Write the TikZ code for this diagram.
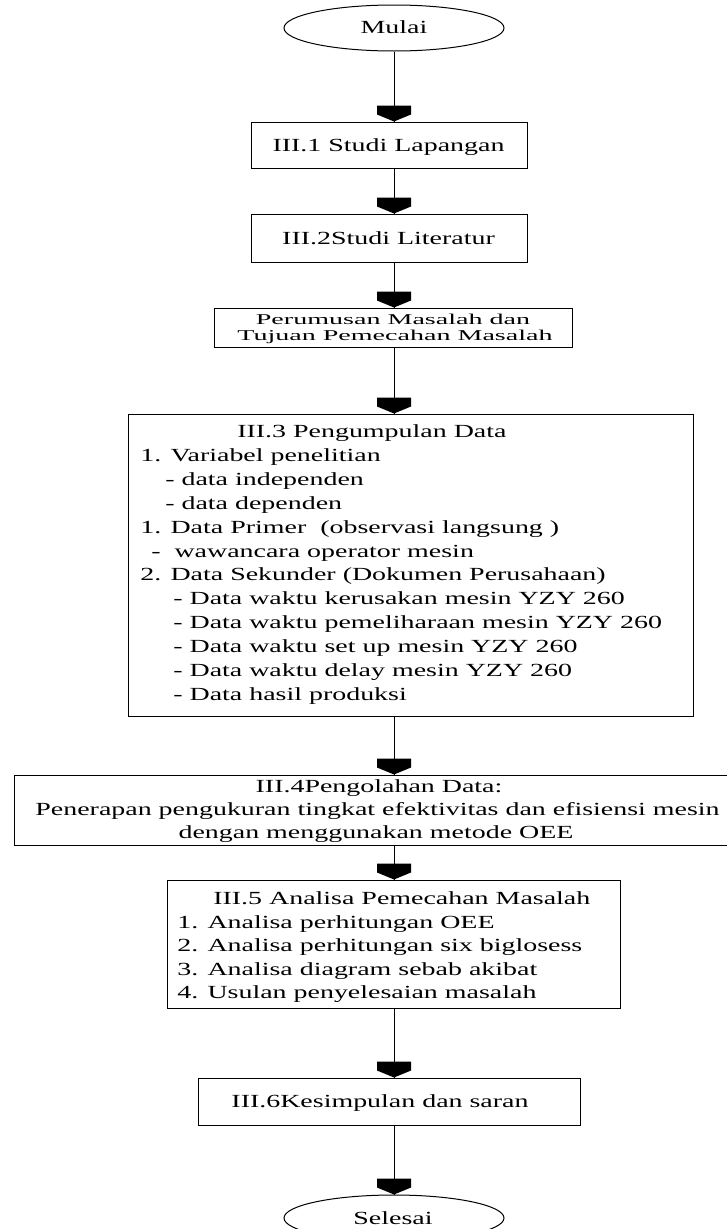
\documentclass[tikz,border=0pt]{standalone}
\usepackage{fontspec}
\setmainfont{Liberation Serif}
\usetikzlibrary{shapes.geometric}
\begin{document}
\begin{tikzpicture}[x=1pt,y=-1pt,
  boxst/.style={draw, line width=1pt, rectangle, inner sep=0pt},
  term/.style={draw, line width=1pt, ellipse, inner sep=0pt, minimum width=220pt, minimum height=46pt},
  conn/.style={line width=1pt},
  txt/.style={font=\fontsize{18.5}{21}\selectfont, xscale=1.51, inner sep=0pt, anchor=base},
  txtl/.style={txt, anchor=base west},
  txts/.style={font=\fontsize{15}{16}\selectfont, xscale=1.87, inner sep=0pt, anchor=base},
  arrowpent/.pic={\fill (0,0) -- (-17,-7) -- (-17,-16) -- (17,-16) -- (17,-7) -- cycle;}
]
\useasboundingbox (0,0) rectangle (726,1229);
\fill[white] (0,0) rectangle (726,1229);

% terminals
\node[term] (m) at (394,28) {};
\node[txt] (mt) at (394,33.5) {Mulai};
\node[term] (s) at (394,1218) {};
\node[txt] (st) at (393,1224) {Selesai};

% boxes
\node[boxst, minimum width=276pt, minimum height=46pt] (b1) at (389,145) {};
\node[boxst, minimum width=276pt, minimum height=48pt] (b2) at (389,238) {};
\node[boxst, minimum width=358pt, minimum height=39pt] (b3) at (393,327.5) {};
\node[boxst, minimum width=565pt, minimum height=302pt] (b4) at (410.5,565) {};
\node[boxst, minimum width=728pt, minimum height=70pt] (b5) at (378,810) {};
\node[boxst, minimum width=453pt, minimum height=128pt] (b6) at (393.5,944) {};
\node[boxst, minimum width=382pt, minimum height=47pt] (b7) at (389,1101.5) {};

% texts
\node[txt] (t1) at (388.5,151.5) {III.1 Studi Lapangan};
\node[txt] (t2) at (388.5,244) {III.2Studi Literatur};
\node[txts] (t3a) at (393,324.5) {Perumusan Masalah dan};
\node[txts] (t3b) at (395,340.5) {Tujuan Pemecahan Masalah};

\node[txtl] (t4a) at (237,437) {III.3 Pengumpulan Data};
\node[txtl] (t4b) at (140,461) {1. Variabel penelitian};
\node[txtl] (t4c) at (165,485) {- data independen};
\node[txtl] (t4d) at (165,509) {- data dependen};
\node[txtl] (t4e) at (140,533) {1. Data Primer\ \ (observasi langsung )};
\node[txtl] (t4f) at (151,557) {-\ \ wawancara operator mesin};
\node[txtl] (t4g) at (140,580) {2. Data Sekunder (Dokumen Perusahaan)};
\node[txtl] (t4h) at (173,604) {- Data waktu kerusakan mesin YZY 260};
\node[txtl] (t4i) at (173,628) {- Data waktu pemeliharaan mesin YZY 260};
\node[txtl] (t4j) at (173,652) {- Data waktu set up mesin YZY 260};
\node[txtl] (t4k) at (173,676) {- Data waktu delay mesin YZY 260};
\node[txtl] (t4l) at (173,700) {- Data hasil produksi};

\node[txt] (t5a) at (379,792) {III.4Pengolahan Data:};
\node[txt] (t5b) at (377.5,815) {Penerapan pengukuran tingkat efektivitas dan efisiensi mesin};
\node[txt] (t5c) at (376,838) {dengan menggunakan metode OEE};

\node[txtl] (t6a) at (213,904) {III.5 Analisa Pemecahan Masalah};
\node[txtl] (t6b) at (177,928) {1. Analisa perhitungan OEE};
\node[txtl] (t6c) at (177,951) {2. Analisa perhitungan six biglosess};
\node[txtl] (t6d) at (177,975) {3. Analisa diagram sebab akibat};
\node[txtl] (t6e) at (177,998) {4. Usulan penyelesaian masalah};

\node[txt] (t7) at (380,1107.5) {III.6Kesimpulan dan saran};

% connectors
\coordinate (ax) at (394,0);
\draw[conn] (m.south) -- (ax |- b1.north);
\path (ax |- b1.north) pic {arrowpent};
\draw[conn] (ax |- b1.south) -- (ax |- b2.north);
\path (ax |- b2.north) pic {arrowpent};
\draw[conn] (ax |- b2.south) -- (ax |- b3.north);
\path (ax |- b3.north) pic {arrowpent};
\draw[conn] (ax |- b3.south) -- (ax |- b4.north);
\path (ax |- b4.north) pic {arrowpent};
\draw[conn] (ax |- b4.south) -- (ax |- b5.north);
\path (ax |- b5.north) pic {arrowpent};
\draw[conn] (ax |- b5.south) -- (ax |- b6.north);
\path (ax |- b6.north) pic {arrowpent};
\draw[conn] (ax |- b6.south) -- (ax |- b7.north);
\path (ax |- b7.north) pic {arrowpent};
\draw[conn] (ax |- b7.south) -- (s.north);
\path (s.north) pic {arrowpent};
\end{tikzpicture}
\end{document}
